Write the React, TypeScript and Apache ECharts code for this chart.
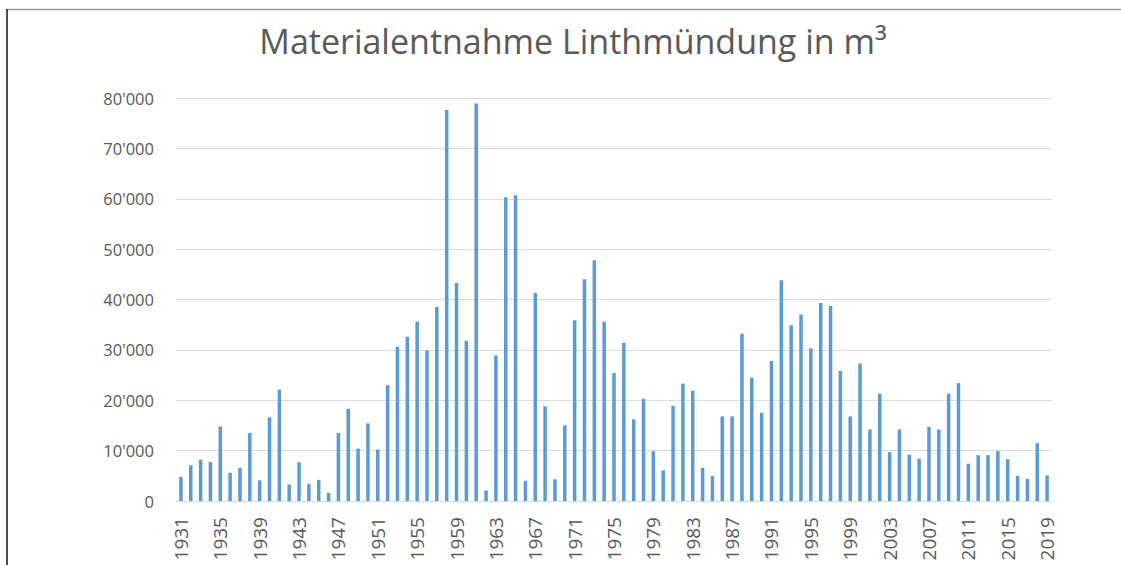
import React, { useEffect, useRef } from "react";
import * as echarts from "echarts";

const years: string[] = [];
for (let y = 1931; y <= 2019; y++) years.push(String(y));

const values: number[] = [
  // 1931-1940
  4800, 7100, 8200, 7750, 14800, 5600, 6600, 13500, 4100, 16600,
  // 1941-1950
  22100, 3300, 7700, 3400, 4200, 1600, 13500, 18300, 10400, 15400,
  // 1951-1960
  10200, 23000, 30600, 32600, 35600, 29900, 38500, 77600, 43300, 31800,
  // 1961-1970
  78900, 2100, 28900, 60300, 60700, 4000, 41300, 18800, 4300, 15000,
  // 1971-1980
  35900, 44000, 47800, 35600, 25400, 31400, 16200, 20300, 9900, 6100,
  // 1981-1990
  18900, 23300, 21900, 6600, 5000, 16800, 16800, 33200, 24500, 17500,
  // 1991-2000
  27800, 43800, 34900, 37000, 30300, 39300, 38700, 25800, 16800, 27300,
  // 2001-2010
  14200, 21300, 9700, 14200, 9200, 8400, 14700, 14200, 21300, 23400,
  // 2011-2019
  7400, 9100, 9100, 9900, 8300, 5000, 4400, 11500, 5100,
];

const titleText = "Materialentnahme Linthmündung in m³";

const fmt = (v: number) => {
  if (v === 0) return "0";
  const s = String(Math.round(v));
  return s.replace(/\B(?=(\d{3})+(?!\d))/g, "'");
};

export default function App() {
  const ref = useRef<HTMLDivElement>(null);
  useEffect(() => {
    if (!ref.current) return;
    const chart = echarts.init(ref.current, undefined, { renderer: "svg" });
    chart.setOption({
      animation: false,
      backgroundColor: "#ffffff",
      title: {
        text: titleText,
        left: 568,
        top: 19,
        textAlign: "center",
        textStyle: {
          fontFamily: "Open Sans",
          fontSize: 34,
          fontWeight: "normal",
          color: "#595959",
        },
      },
      graphic: [
        {
          type: "line",
          shape: { x1: 7, y1: 9.5, x2: 1121, y2: 9.5 },
          style: { stroke: "#9a9a9a", lineWidth: 1.5 },
        },
        {
          type: "line",
          shape: { x1: 7, y1: 9, x2: 7, y2: 565 },
          style: { stroke: "#111111", lineWidth: 1.5 },
        },
      ],
      grid: {
        left: 176,
        right: 69,
        top: 98,
        bottom: 64,
        containLabel: false,
        outerBoundsMode: "none",
      },
      xAxis: {
        type: "category",
        data: years,
        boundaryGap: true,
        axisLine: { show: true, lineStyle: { color: "#d9d9d9", width: 1 } },
        axisTick: { show: false },
        axisLabel: {
          interval: 3,
          rotate: 90,
          margin: 16,
          fontFamily: "Open Sans",
          fontSize: 19,
          color: "#595959",
        },
      },
      yAxis: {
        type: "value",
        min: 0,
        max: 80000,
        interval: 10000,
        axisLine: { show: false },
        axisTick: { show: false },
        splitLine: { lineStyle: { color: "#d9d9d9", width: 1 } },
        axisLabel: {
          margin: 22,
          fontFamily: "Open Sans",
          fontSize: 16.5,
          color: "#595959",
          formatter: (v: number) => fmt(v),
        },
      },
      series: [
        {
          type: "bar",
          data: values,
          barWidth: 3.5,
          itemStyle: { color: "#5b9bd5" },
        },
      ],
    });
    return () => chart.dispose();
  }, []);
  return (
    <div
      ref={ref}
      style={{ position: "fixed", left: 0, top: 0, width: 1121, height: 565 }}
    />
  );
}
